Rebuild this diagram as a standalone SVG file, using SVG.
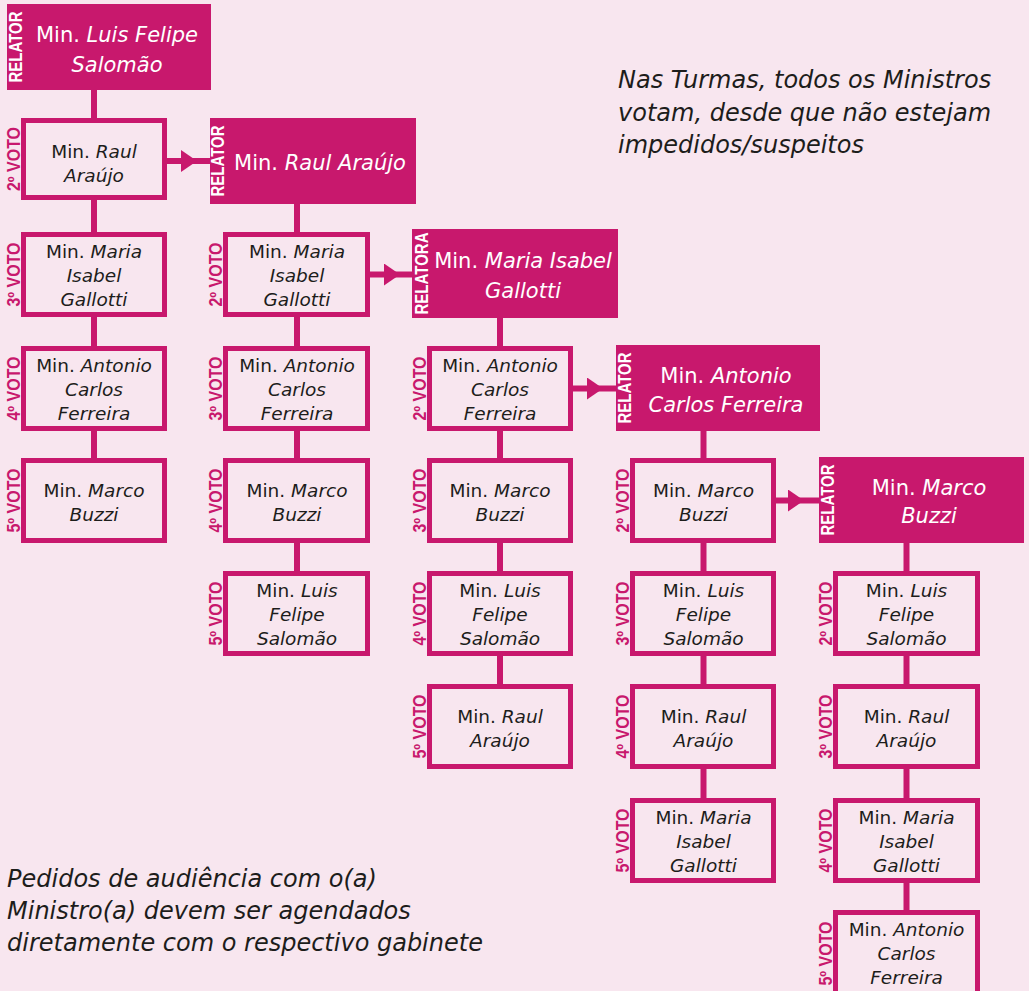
<svg xmlns="http://www.w3.org/2000/svg" width="1029" height="991" viewBox="0 0 1029 991">
<defs>
<marker id="tri" markerUnits="userSpaceOnUse" viewBox="0 0 16 22" refX="16" refY="11" markerWidth="16" markerHeight="22" orient="auto">
<path d="M0,0 L16,11 L0,22 z" fill="#c8186d"/>
</marker>
<style>
.bg{fill:#f8e6ef}
.fill{fill:#c8186d}
.box{fill:#f8e6ef;stroke:#c8186d;stroke-width:5}
.conn{stroke:#c8186d;stroke-width:6;fill:none}
.ft{font-family:"DejaVu Sans","Open Sans",sans-serif;font-size:21px;font-weight:400;fill:#ffffff;text-anchor:middle}
.bt{font-family:"DejaVu Sans","Open Sans",sans-serif;font-size:18.5px;font-weight:400;fill:#1d1d1b;text-anchor:middle}
.it{font-style:italic}
.vl{font-family:"Liberation Sans",sans-serif;font-size:18px;font-weight:bold;fill:#c8186d;text-anchor:middle}
.rl{font-family:"Liberation Sans",sans-serif;font-size:18px;font-weight:bold;fill:#ffffff;text-anchor:middle}
.note{font-family:"DejaVu Sans","Open Sans",sans-serif;font-size:24px;font-style:italic;font-weight:400;fill:#1d1d1b}
</style>
</defs>
<rect class="bg" x="0" y="0" width="1029" height="991"/>

<g id="connectors">
<line class="conn" x1="94" y1="90" x2="94" y2="118"/>
<line class="conn" x1="94" y1="200" x2="94" y2="232"/>
<line class="conn" x1="94" y1="317" x2="94" y2="346"/>
<line class="conn" x1="94" y1="431" x2="94" y2="458"/>
<line class="conn" x1="297" y1="204" x2="297" y2="232"/>
<line class="conn" x1="297" y1="317" x2="297" y2="346"/>
<line class="conn" x1="297" y1="431" x2="297" y2="458"/>
<line class="conn" x1="297" y1="543" x2="297" y2="571"/>
<line class="conn" x1="500" y1="318" x2="500" y2="346"/>
<line class="conn" x1="500" y1="431" x2="500" y2="458"/>
<line class="conn" x1="500" y1="543" x2="500" y2="571"/>
<line class="conn" x1="500" y1="656" x2="500" y2="684"/>
<line class="conn" x1="703.5" y1="431" x2="703.5" y2="458"/>
<line class="conn" x1="703.5" y1="543" x2="703.5" y2="571"/>
<line class="conn" x1="703.5" y1="656" x2="703.5" y2="684"/>
<line class="conn" x1="703.5" y1="769" x2="703.5" y2="798"/>
<line class="conn" x1="906.5" y1="543" x2="906.5" y2="571"/>
<line class="conn" x1="906.5" y1="656" x2="906.5" y2="684"/>
<line class="conn" x1="906.5" y1="769" x2="906.5" y2="798"/>
<line class="conn" x1="906.5" y1="883" x2="906.5" y2="910"/>
<path class="conn" d="M165,161 L197,161 L211,161" marker-mid="url(#tri)"/>
<path class="conn" d="M368,274.5 L400,274.5 L413,274.5" marker-mid="url(#tri)"/>
<path class="conn" d="M571,388.5 L603,388.5 L617,388.5" marker-mid="url(#tri)"/>
<path class="conn" d="M774,500.5 L804,500.5 L820,500.5" marker-mid="url(#tri)"/>
</g>

<!-- Column 1 -->
<g id="c1-relator">
<rect class="fill" x="7" y="4" width="204" height="86"/>
<text class="rl" transform="translate(21.5,47) rotate(-90)" textLength="71" lengthAdjust="spacingAndGlyphs">RELATOR</text>
<text class="ft" x="117" y="42">Min. <tspan class="it">Luis Felipe</tspan></text>
<text class="ft it" x="117" y="72">Salomão</text>
</g>
<g id="c1-v2">
<rect class="box" x="23.5" y="120.5" width="141" height="77"/>
<text class="vl" transform="translate(20,159) rotate(-90)" textLength="64" lengthAdjust="spacingAndGlyphs">2º VOTO</text>
<text class="bt" x="94" y="158">Min. <tspan class="it">Raul</tspan></text>
<text class="bt it" x="94" y="182">Araújo</text>
</g>
<g id="c1-v3">
<rect class="box" x="23.5" y="234.5" width="141" height="80"/>
<text class="vl" transform="translate(20,274.5) rotate(-90)" textLength="64" lengthAdjust="spacingAndGlyphs">3º VOTO</text>
<text class="bt" x="94" y="258">Min. <tspan class="it">Maria</tspan></text>
<text class="bt it" x="94" y="282">Isabel</text>
<text class="bt it" x="94" y="306">Gallotti</text>
</g>
<g id="c1-v4">
<rect class="box" x="23.5" y="348.5" width="141" height="80"/>
<text class="vl" transform="translate(20,388.5) rotate(-90)" textLength="64" lengthAdjust="spacingAndGlyphs">4º VOTO</text>
<text class="bt" x="94" y="372">Min. <tspan class="it">Antonio</tspan></text>
<text class="bt it" x="94" y="396">Carlos</text>
<text class="bt it" x="94" y="420">Ferreira</text>
</g>
<g id="c1-v5">
<rect class="box" x="23.5" y="460.5" width="141" height="80"/>
<text class="vl" transform="translate(20,500.5) rotate(-90)" textLength="64" lengthAdjust="spacingAndGlyphs">5º VOTO</text>
<text class="bt" x="94" y="497">Min. <tspan class="it">Marco</tspan></text>
<text class="bt it" x="94" y="521">Buzzi</text>
</g>

<!-- Column 2 -->
<g id="c2-relator">
<rect class="fill" x="210" y="118" width="206" height="86"/>
<text class="rl" transform="translate(223.5,161) rotate(-90)" textLength="71" lengthAdjust="spacingAndGlyphs">RELATOR</text>
<text class="ft" x="320" y="170">Min. <tspan class="it">Raul Araújo</tspan></text>
</g>
<g id="c2-v2">
<rect class="box" x="225.5" y="234.5" width="142" height="80"/>
<text class="vl" transform="translate(222,274.5) rotate(-90)" textLength="64" lengthAdjust="spacingAndGlyphs">2º VOTO</text>
<text class="bt" x="297" y="258">Min. <tspan class="it">Maria</tspan></text>
<text class="bt it" x="297" y="282">Isabel</text>
<text class="bt it" x="297" y="306">Gallotti</text>
</g>
<g id="c2-v3">
<rect class="box" x="225.5" y="348.5" width="142" height="80"/>
<text class="vl" transform="translate(222,388.5) rotate(-90)" textLength="64" lengthAdjust="spacingAndGlyphs">3º VOTO</text>
<text class="bt" x="297" y="372">Min. <tspan class="it">Antonio</tspan></text>
<text class="bt it" x="297" y="396">Carlos</text>
<text class="bt it" x="297" y="420">Ferreira</text>
</g>
<g id="c2-v4">
<rect class="box" x="225.5" y="460.5" width="142" height="80"/>
<text class="vl" transform="translate(222,500.5) rotate(-90)" textLength="64" lengthAdjust="spacingAndGlyphs">4º VOTO</text>
<text class="bt" x="297" y="497">Min. <tspan class="it">Marco</tspan></text>
<text class="bt it" x="297" y="521">Buzzi</text>
</g>
<g id="c2-v5">
<rect class="box" x="225.5" y="573.5" width="142" height="80"/>
<text class="vl" transform="translate(222,613.5) rotate(-90)" textLength="64" lengthAdjust="spacingAndGlyphs">5º VOTO</text>
<text class="bt" x="297" y="597">Min. <tspan class="it">Luis</tspan></text>
<text class="bt it" x="297" y="621">Felipe</text>
<text class="bt it" x="297" y="645">Salomão</text>
</g>

<!-- Column 3 -->
<g id="c3-relatora">
<rect class="fill" x="412" y="229" width="206" height="89"/>
<text class="rl" transform="translate(427.5,273.5) rotate(-90)" textLength="82" lengthAdjust="spacingAndGlyphs">RELATORA</text>
<text class="ft" x="523" y="268">Min. <tspan class="it">Maria Isabel</tspan></text>
<text class="ft it" x="523" y="298">Gallotti</text>
</g>
<g id="c3-v2">
<rect class="box" x="429.5" y="348.5" width="141" height="80"/>
<text class="vl" transform="translate(426,388.5) rotate(-90)" textLength="64" lengthAdjust="spacingAndGlyphs">2º VOTO</text>
<text class="bt" x="500" y="372">Min. <tspan class="it">Antonio</tspan></text>
<text class="bt it" x="500" y="396">Carlos</text>
<text class="bt it" x="500" y="420">Ferreira</text>
</g>
<g id="c3-v3">
<rect class="box" x="429.5" y="460.5" width="141" height="80"/>
<text class="vl" transform="translate(426,500.5) rotate(-90)" textLength="64" lengthAdjust="spacingAndGlyphs">3º VOTO</text>
<text class="bt" x="500" y="497">Min. <tspan class="it">Marco</tspan></text>
<text class="bt it" x="500" y="521">Buzzi</text>
</g>
<g id="c3-v4">
<rect class="box" x="429.5" y="573.5" width="141" height="80"/>
<text class="vl" transform="translate(426,613.5) rotate(-90)" textLength="64" lengthAdjust="spacingAndGlyphs">4º VOTO</text>
<text class="bt" x="500" y="597">Min. <tspan class="it">Luis</tspan></text>
<text class="bt it" x="500" y="621">Felipe</text>
<text class="bt it" x="500" y="645">Salomão</text>
</g>
<g id="c3-v5">
<rect class="box" x="429.5" y="686.5" width="141" height="80"/>
<text class="vl" transform="translate(426,726.5) rotate(-90)" textLength="64" lengthAdjust="spacingAndGlyphs">5º VOTO</text>
<text class="bt" x="500" y="723">Min. <tspan class="it">Raul</tspan></text>
<text class="bt it" x="500" y="747">Araújo</text>
</g>

<!-- Column 4 -->
<g id="c4-relator">
<rect class="fill" x="616" y="345" width="204" height="86"/>
<text class="rl" transform="translate(631,388) rotate(-90)" textLength="71" lengthAdjust="spacingAndGlyphs">RELATOR</text>
<text class="ft" x="726" y="383">Min. <tspan class="it">Antonio</tspan></text>
<text class="ft it" x="726" y="412">Carlos Ferreira</text>
</g>
<g id="c4-v2">
<rect class="box" x="632.5" y="460.5" width="141" height="80"/>
<text class="vl" transform="translate(629,500.5) rotate(-90)" textLength="64" lengthAdjust="spacingAndGlyphs">2º VOTO</text>
<text class="bt" x="703.5" y="497">Min. <tspan class="it">Marco</tspan></text>
<text class="bt it" x="703.5" y="521">Buzzi</text>
</g>
<g id="c4-v3">
<rect class="box" x="632.5" y="573.5" width="141" height="80"/>
<text class="vl" transform="translate(629,613.5) rotate(-90)" textLength="64" lengthAdjust="spacingAndGlyphs">3º VOTO</text>
<text class="bt" x="703.5" y="597">Min. <tspan class="it">Luis</tspan></text>
<text class="bt it" x="703.5" y="621">Felipe</text>
<text class="bt it" x="703.5" y="645">Salomão</text>
</g>
<g id="c4-v4">
<rect class="box" x="632.5" y="686.5" width="141" height="80"/>
<text class="vl" transform="translate(629,726.5) rotate(-90)" textLength="64" lengthAdjust="spacingAndGlyphs">4º VOTO</text>
<text class="bt" x="703.5" y="723">Min. <tspan class="it">Raul</tspan></text>
<text class="bt it" x="703.5" y="747">Araújo</text>
</g>
<g id="c4-v5">
<rect class="box" x="632.5" y="800.5" width="141" height="80"/>
<text class="vl" transform="translate(629,840.5) rotate(-90)" textLength="64" lengthAdjust="spacingAndGlyphs">5º VOTO</text>
<text class="bt" x="703.5" y="824">Min. <tspan class="it">Maria</tspan></text>
<text class="bt it" x="703.5" y="848">Isabel</text>
<text class="bt it" x="703.5" y="872">Gallotti</text>
</g>

<!-- Column 5 -->
<g id="c5-relator">
<rect class="fill" x="819" y="457" width="205" height="86"/>
<text class="rl" transform="translate(833.5,500) rotate(-90)" textLength="71" lengthAdjust="spacingAndGlyphs">RELATOR</text>
<text class="ft" x="929" y="495">Min. <tspan class="it">Marco</tspan></text>
<text class="ft it" x="929" y="523">Buzzi</text>
</g>
<g id="c5-v2">
<rect class="box" x="835.5" y="573.5" width="142" height="80"/>
<text class="vl" transform="translate(832,613.5) rotate(-90)" textLength="64" lengthAdjust="spacingAndGlyphs">2º VOTO</text>
<text class="bt" x="906.5" y="597">Min. <tspan class="it">Luis</tspan></text>
<text class="bt it" x="906.5" y="621">Felipe</text>
<text class="bt it" x="906.5" y="645">Salomão</text>
</g>
<g id="c5-v3">
<rect class="box" x="835.5" y="686.5" width="142" height="80"/>
<text class="vl" transform="translate(832,726.5) rotate(-90)" textLength="64" lengthAdjust="spacingAndGlyphs">3º VOTO</text>
<text class="bt" x="906.5" y="723">Min. <tspan class="it">Raul</tspan></text>
<text class="bt it" x="906.5" y="747">Araújo</text>
</g>
<g id="c5-v4">
<rect class="box" x="835.5" y="800.5" width="142" height="80"/>
<text class="vl" transform="translate(832,840.5) rotate(-90)" textLength="64" lengthAdjust="spacingAndGlyphs">4º VOTO</text>
<text class="bt" x="906.5" y="824">Min. <tspan class="it">Maria</tspan></text>
<text class="bt it" x="906.5" y="848">Isabel</text>
<text class="bt it" x="906.5" y="872">Gallotti</text>
</g>
<g id="c5-v5">
<rect class="box" x="835.5" y="912.5" width="142" height="82"/>
<text class="vl" transform="translate(832,953.5) rotate(-90)" textLength="64" lengthAdjust="spacingAndGlyphs">5º VOTO</text>
<text class="bt" x="906.5" y="936">Min. <tspan class="it">Antonio</tspan></text>
<text class="bt it" x="906.5" y="960">Carlos</text>
<text class="bt it" x="906.5" y="984">Ferreira</text>
</g>

<g id="notes">
<text class="note" x="618" y="88">Nas Turmas, todos os Ministros</text>
<text class="note" x="618" y="121">votam, desde que não estejam</text>
<text class="note" x="618" y="153">impedidos/suspeitos</text>
<text class="note" x="7" y="887">Pedidos de audiência com o(a)</text>
<text class="note" x="7" y="919">Ministro(a) devem ser agendados</text>
<text class="note" x="7" y="951">diretamente com o respectivo gabinete</text>
</g>
</svg>
